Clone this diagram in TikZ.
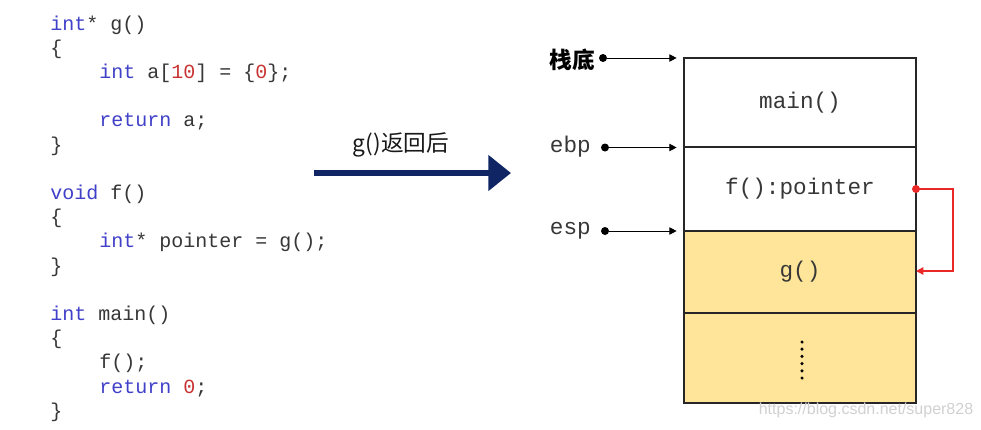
\documentclass[tikz,border=0pt]{standalone}
\usepackage{fontspec}
\setmainfont{Liberation Sans}
\setmonofont{Liberation Mono}
\newfontfamily\cjk{Noto Sans CJK SC}
\usepackage{xcolor}
\usetikzlibrary{arrows.meta}
\usetikzlibrary{positioning}

\definecolor{kwblue}{RGB}{64,64,200}
\definecolor{numred}{RGB}{200,50,50}
\definecolor{codegray}{RGB}{55,55,55}
\definecolor{stackyellow}{RGB}{255,229,153}
\definecolor{navy}{RGB}{16,38,100}
\definecolor{ptrred}{RGB}{235,40,40}

\newcommand{\kwd}[1]{\textcolor{kwblue}{#1}}
\newcommand{\numlit}[1]{\textcolor{numred}{#1}}

\tikzset{
  codeline/.style={anchor=base west, inner sep=0pt, text=codegray,
    font=\ttfamily\fontsize{15}{18}\selectfont},
  frame/.style={draw=black!85, line width=1pt, outer sep=0pt, minimum width=174pt,
    text=codegray, font=\ttfamily\fontsize{17}{20}\selectfont},
  reglabel/.style={anchor=east, inner sep=0pt, text=codegray,
    font=\ttfamily\fontsize{17}{20}\selectfont},
  ptrdot/.style={circle, fill=black, inner sep=0pt, minimum size=6pt},
  ptrarrow/.style={-{Triangle[length=5.5pt,width=5.5pt]}, line width=0.75pt, shorten >=5.5pt},
  reddot/.style={circle, fill=ptrred, inner sep=0pt, minimum size=6pt},
  redarrow/.style={-{Triangle[length=5.5pt,width=5.5pt]}, color=ptrred, line width=1pt},
  bigarrow/.style={-{Triangle[length=17pt,width=26pt]}, draw=navy, line width=5pt},
}

\begin{document}
\begin{tikzpicture}[x=0.75pt, y=-0.75pt]
  \useasboundingbox[fill=white] (0,0) rectangle (981,429);

  % Code listing
  \node[codeline] (c0)  at (50,30)    {\kwd{int}* g()};
  \node[codeline] (c1)  at (50,54.2)  {\{};
  \node[codeline] (c2)  at (99,78.4)  {\kwd{int} a[\numlit{10}] = \{\numlit{0}\};};
  \node[codeline] (c4)  at (99,126.8) {\kwd{return} a;};
  \node[codeline] (c5)  at (50,151)   {\}};
  \node[codeline] (c7)  at (50,199.4) {\kwd{void} f()};
  \node[codeline] (c8)  at (50,223.6) {\{};
  \node[codeline] (c9)  at (99,247.8) {\kwd{int}* pointer = g();};
  \node[codeline] (c10) at (50,272)   {\}};
  \node[codeline] (c12) at (50,320.4) {\kwd{int} main()};
  \node[codeline] (c13) at (50,344.6) {\{};
  \node[codeline] (c14) at (99,368.8) {f();};
  \node[codeline] (c15) at (99,393)   {\kwd{return} \numlit{0};};
  \node[codeline] (c16) at (50,417.2) {\}};

  % After g() returns
  \coordinate (arrstart) at (314,173);
  \coordinate (arrend)   at (511,173);
  \draw[bigarrow] (arrstart) -- (arrend);
  \node[font=\cjk\fontsize{17}{20}\selectfont, text=black!90] (retlbl) at (401,145) {g()返回后};

  % Stack frames
  \node[frame, anchor=north, minimum height=66.75pt] (mainf) at (800,58) {main()};
  \node[frame, minimum height=63pt, below=0pt of mainf] (fptr) {f():pointer};
  \node[frame, minimum height=61.5pt, fill=stackyellow, below=0pt of fptr] (gfun) {g()};
  \node[frame, minimum height=67.5pt, fill=stackyellow, below=0pt of gfun] (rest) {};
  \foreach \k in {0,...,5}
    \fill (802,342+7.2*\k) circle (1.3pt);

  % Stack pointers
  \node[anchor=east, inner sep=0pt, font=\cjk\bfseries\fontsize{17}{20}\selectfont] (bottomlbl) at (595,60) {栈底};
  \node[reglabel] (ebplbl) at (591,147) {ebp};
  \node[reglabel] (esplbl) at (591,231) {esp};
  \node[ptrdot] (bdot) at (603,58) {};
  \node[ptrdot] (edot) at (605,147.5) {};
  \node[ptrdot] (sdot) at (605,231) {};
  \draw[ptrarrow] (bdot) -- (bdot -| mainf.west);
  \draw[ptrarrow] (edot) -- (edot -| mainf.west);
  \draw[ptrarrow] (sdot) -- (sdot -| mainf.west);

  % Dangling pointer
  \node[reddot] (pdot) at (fptr.east) {};
  \draw[redarrow] (pdot.center) -- ++(37,0) |- ([yshift=0.75pt]gfun.east);

  % Watermark
  \node[text=black!18, font=\fontsize{12}{14}\selectfont] (wmark) at (866,410) {https://blog.csdn.net/super828};
\end{tikzpicture}
\end{document}
